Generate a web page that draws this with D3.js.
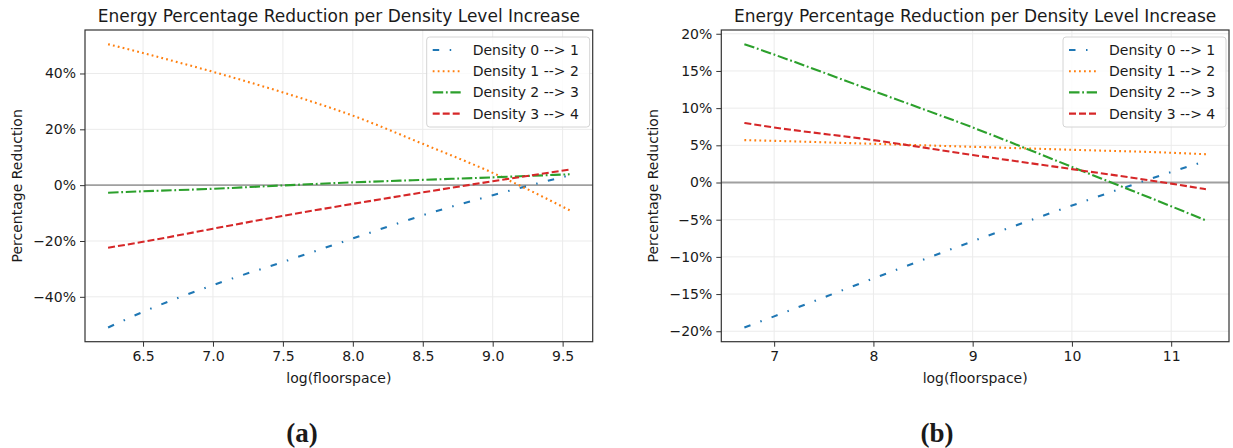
<!DOCTYPE html>
<html lang="en">
<head>
  <meta charset="UTF-8">
  <title>Energy Percentage Reduction per Density Level Increase</title>
  <script src="https://d3js.org/d3.v7.min.js"></script>
  <style>
    body {
      margin: 0;
      background: #fff;
    }
    svg text {
      font-family: "DejaVu Sans", sans-serif;
      fill: #1a1a1a;
    }
    .caption {
      font-family: "Liberation Serif", "DejaVu Serif", serif;
      font-weight: bold;
    }
  </style>
</head>
<body>
  <svg id="chart" width="1233" height="448"></svg>

  <script>
    // Panel (a): values
    const aX = [6.25, 6.5, 7.0, 7.5, 8.0, 8.5, 9.0, 9.55];
    const aD01 = [-51.0, -45.4, -35.8, -27.5, -19.1, -10.8, -3.6, 3.5];
    const aD12 = [50.5, 47.3, 40.6, 33.2, 24.9, 14.8, 4.4, -9.0];
    const aD23 = [-2.7, -2.2, -1.3, -0.1, 1.0, 1.9, 2.8, 3.9];
    const aD34 = [-22.4, -20.3, -15.6, -11.0, -6.7, -2.6, 1.4, 5.6];

    // Panel (b)
    const bX = [6.70, 7, 8, 9, 10, 11, 11.35];
    const bD01 = [-19.5, -18.0, -12.9, -7.9, -3.1, 1.4, 2.9];
    const bD12 = [5.7, 5.6, 5.2, 4.8, 4.4, 4.0, 3.8];
    const bD23 = [18.6, 17.2, 12.3, 7.4, 2.1, -3.2, -5.1];
    const bD34 = [8.0, 7.4, 5.7, 3.7, 1.8, -0.15, -0.9];

    const seriesNames = ["Density 0 --> 1", "Density 1 --> 2", "Density 2 --> 3", "Density 3 --> 4"];
    const seriesColors = ["#1f77b4", "#ff7f0e", "#2ca02c", "#d62728"];
    const seriesDashes = ["6.5,10.5,1.5,10.5", "1.8,3.2", "10.5,2.7,1.8,2.7", "7,3"];

    const aXTicks = [6.5, 7.0, 7.5, 8.0, 8.5, 9.0, 9.5];
    const aYTicks = [-40, -20, 0, 20, 40];
    const bXTicks = [7, 8, 9, 10, 11];
    const bYTicks = [-20, -15, -10, -5, 0, 5, 10, 15, 20];

    const titleText = "Energy Percentage Reduction per Density Level Increase";
    const svg = d3.select("#chart");

    const pctFormat = d => (d < 0 ? "\u2212" : "") + Math.abs(d) + "%";

    // pad a domain by 5% on each side, like matplotlib's autoscale
    function padded(values) {
      const [lo, hi] = d3.extent(values);
      const m = (hi - lo) * 0.05;
      return [lo - m, hi + m];
    }

    function drawPanel(p) {
      const g = svg.append("g");
      const x = d3.scaleLinear().domain(padded(p.xs)).range([p.left, p.right]);
      const y = d3.scaleLinear().domain(padded(p.series.flat())).range([p.bottom, p.top]);

      // grid
      g.append("g").selectAll("line.vg")
        .data(p.xTicks).enter().append("line")
        .attr("x1", d => x(d)).attr("x2", d => x(d))
        .attr("y1", p.top).attr("y2", p.bottom)
        .attr("stroke", "#ebebeb").attr("stroke-width", 1);
      g.append("g").selectAll("line.hg")
        .data(p.yTicks).enter().append("line")
        .attr("x1", p.left).attr("x2", p.right)
        .attr("y1", d => y(d)).attr("y2", d => y(d))
        .attr("stroke", "#ebebeb").attr("stroke-width", 1);

      // zero line
      g.append("line")
        .attr("x1", p.left).attr("x2", p.right)
        .attr("y1", y(0)).attr("y2", y(0))
        .attr("stroke", "#a0a0a0").attr("stroke-width", 1.8);

      // series
      const line = d3.line()
        .x((d, i) => x(p.xs[i]))
        .y(d => y(d))
        .curve(d3.curveMonotoneX);

      p.series.forEach((vals, i) => {
        g.append("path")
          .datum(vals)
          .attr("d", line)
          .attr("fill", "none")
          .attr("stroke", seriesColors[i])
          .attr("stroke-width", 2.1)
          .attr("stroke-dasharray", seriesDashes[i]);
      });

      // axes
      const xAxis = g.append("g")
        .attr("transform", `translate(0,${p.bottom})`)
        .call(d3.axisBottom(x).tickValues(p.xTicks).tickFormat(p.xFormat).tickSize(5).tickPadding(4));
      const yAxis = g.append("g")
        .attr("transform", `translate(${p.left},0)`)
        .call(d3.axisLeft(y).tickValues(p.yTicks).tickFormat(pctFormat).tickSize(5).tickPadding(4));
      [xAxis, yAxis].forEach(ax => {
        ax.select(".domain").remove();
        ax.selectAll(".tick line").attr("stroke", "#333");
        ax.selectAll(".tick text").style("font-size", "14px").attr("fill", "#1a1a1a");
      });

      // frame
      g.append("rect")
        .attr("x", p.left).attr("y", p.top)
        .attr("width", p.right - p.left).attr("height", p.bottom - p.top)
        .attr("fill", "none").attr("stroke", "#333").attr("stroke-width", 1.2);

      // titles
      g.append("text")
        .attr("x", (p.left + p.right) / 2).attr("y", 22)
        .attr("text-anchor", "middle")
        .style("font-size", "17px")
        .text(titleText);
      g.append("text")
        .attr("x", (p.left + p.right) / 2).attr("y", 383)
        .attr("text-anchor", "middle")
        .style("font-size", "14px")
        .text("log(floorspace)");
      g.append("text")
        .attr("transform", `translate(${p.yLabelX},${(p.top + p.bottom) / 2}) rotate(-90)`)
        .attr("text-anchor", "middle")
        .attr("dy", "0.35em")
        .style("font-size", "14px")
        .text("Percentage Reduction");

      // legend
      const lw = 163, lh = 90;
      const lx = p.right - 3 - lw, ly = p.top + 7;
      const leg = g.append("g").attr("transform", `translate(${lx},${ly})`);
      leg.append("rect")
        .attr("width", lw).attr("height", lh).attr("rx", 3)
        .attr("fill", "#fff").attr("fill-opacity", 0.8)
        .attr("stroke", "#d4d4d4").attr("stroke-width", 1);
      seriesNames.forEach((name, i) => {
        const ry = 13 + i * 21.2;
        leg.append("line")
          .attr("x1", 6).attr("x2", 34)
          .attr("y1", ry).attr("y2", ry)
          .attr("stroke", seriesColors[i])
          .attr("stroke-width", 2.1)
          .attr("stroke-dasharray", seriesDashes[i]);
        leg.append("text")
          .attr("x", 46).attr("y", ry).attr("dy", "0.35em")
          .style("font-size", "14px")
          .text(name);
      });

      // caption
      svg.append("text")
        .attr("class", "caption")
        .attr("x", p.captionX).attr("y", 442)
        .attr("text-anchor", "middle")
        .style("font-size", "27px")
        .text(p.caption);
    }

    drawPanel({
      left: 85, right: 592.7, top: 30, bottom: 341.7,
      xs: aX, series: [aD01, aD12, aD23, aD34],
      xTicks: aXTicks, yTicks: aYTicks, xFormat: d3.format(".1f"),
      yLabelX: 17, captionX: 302, caption: "(a)"
    });

    drawPanel({
      left: 721.3, right: 1229, top: 30, bottom: 341.7,
      xs: bX, series: [bD01, bD12, bD23, bD34],
      xTicks: bXTicks, yTicks: bYTicks, xFormat: d3.format("d"),
      yLabelX: 653, captionX: 937, caption: "(b)"
    });
  </script>
</body>
</html>
